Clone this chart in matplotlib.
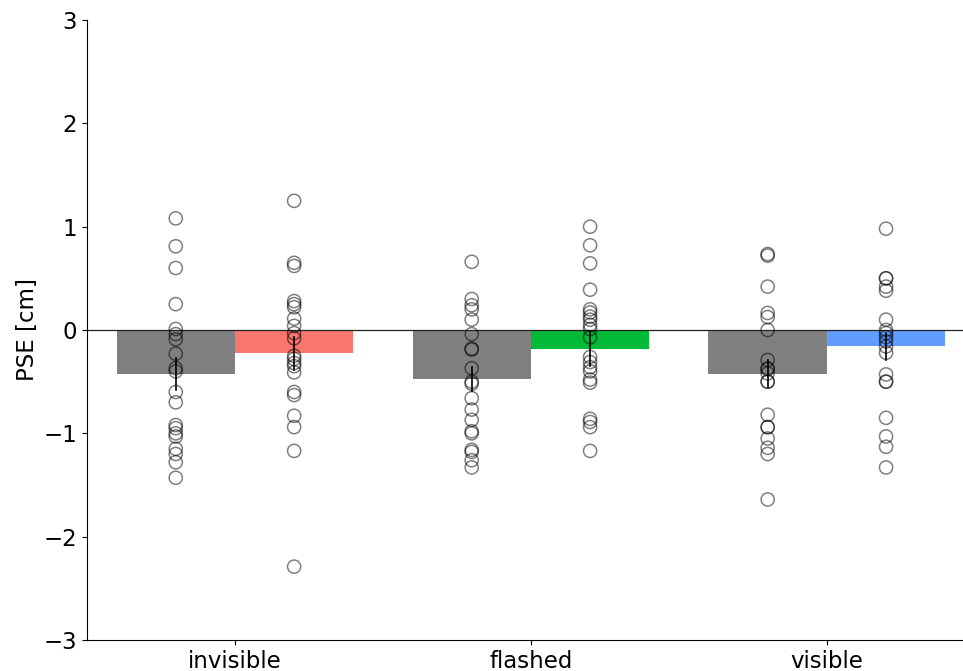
#!/usr/bin/env python3
# -*- coding: utf-8 -*-

"""PSE per condition: gray baseline bars vs. coloured bars, with single subjects."""

import matplotlib
matplotlib.use('Agg')
import matplotlib.pyplot as plt
import numpy as np

# ---------------------------------------------------------------------------
# Data
# ---------------------------------------------------------------------------

conditions = ['invisible', 'flashed', 'visible']

gray_mean = [-0.43, -0.475, -0.425]
gray_sem = [0.155, 0.12, 0.13]
color_mean = [-0.226, -0.188, -0.158]
color_sem = [0.16, 0.165, 0.133]

gray_points = [
    [1.08, 0.81, 0.60, 0.25, 0.01, -0.04, -0.09, -0.23, -0.37, -0.40,
     -0.60, -0.70, -0.92, -0.95, -1.00, -1.03, -1.15, -1.20, -1.28, -1.43],
    [0.66, 0.30, 0.24, 0.20, 0.10, -0.04, -0.18, -0.19, -0.37, -0.50,
     -0.52, -0.66, -0.77, -0.87, -0.98, -1.00, -1.16, -1.18, -1.26, -1.33],
    [0.735, 0.72, 0.42, 0.165, 0.125, 0.00, -0.29, -0.37, -0.38, -0.42,
     -0.50, -0.50, -0.82, -0.94, -0.94, -1.05, -1.14, -1.20, -1.64],
]
color_points = [
    [1.25, 0.65, 0.62, 0.28, 0.25, 0.22, 0.11, 0.04, -0.03, -0.08,
     -0.25, -0.28, -0.32, -0.35, -0.41, -0.60, -0.63, -0.83, -0.94, -1.17,
     -2.29],
    [1.00, 0.82, 0.645, 0.39, 0.20, 0.17, 0.13, 0.10, 0.05, 0.01,
     -0.07, -0.26, -0.31, -0.36, -0.40, -0.48, -0.51, -0.86, -0.89, -0.94,
     -1.17],
    [0.98, 0.50, 0.50, 0.42, 0.38, 0.10, 0.00, -0.03, -0.07, -0.11,
     -0.16, -0.22, -0.43, -0.50, -0.50, -0.85, -1.03, -1.13, -1.33],
]

bar_colors = ['#F8766D', '#00BA38', '#619CFF']

# ---------------------------------------------------------------------------
# Plot
# ---------------------------------------------------------------------------

plt.rcParams['font.size'] = 16.5

fig = plt.figure(figsize=(9.63, 6.71), dpi=100)
ax = fig.add_axes([0.0903, 0.0462, 0.9097, 0.924])

width = 0.4
x = np.arange(len(conditions))

ax.bar(x - width, gray_mean, width=width, align='edge', color='#808080', zorder=1)
ax.bar(x, color_mean, width=width, align='edge', color=bar_colors, zorder=1)

ax.axhline(0, color='#222222', lw=0.9, zorder=2)

for i in range(len(conditions)):
    xg = x[i] - width / 2
    xc = x[i] + width / 2
    ax.plot([xg, xg], [gray_mean[i] - gray_sem[i], gray_mean[i] + gray_sem[i]],
            color='k', lw=1.2, zorder=3)
    ax.plot([xc, xc], [color_mean[i] - color_sem[i], color_mean[i] + color_sem[i]],
            color='k', lw=1.2, zorder=3)
    ax.scatter(np.full(len(gray_points[i]), xg), gray_points[i], s=90,
               facecolors='none', edgecolors=(0, 0, 0, 0.5), linewidths=1.1,
               zorder=4)
    ax.scatter(np.full(len(color_points[i]), xc), color_points[i], s=90,
               facecolors='none', edgecolors=(0, 0, 0, 0.5), linewidths=1.1,
               zorder=4)

ax.set_xlim(-0.5, 2.46)
ax.set_ylim(-3, 3)
ax.set_xticks(x)
ax.set_xticklabels(conditions)
ax.set_yticks([-3, -2, -1, 0, 1, 2, 3])
ax.set_ylabel('PSE [cm]', labelpad=3)

ax.spines['top'].set_visible(False)
ax.spines['right'].set_visible(False)

fig.savefig('out.png', dpi=100)
